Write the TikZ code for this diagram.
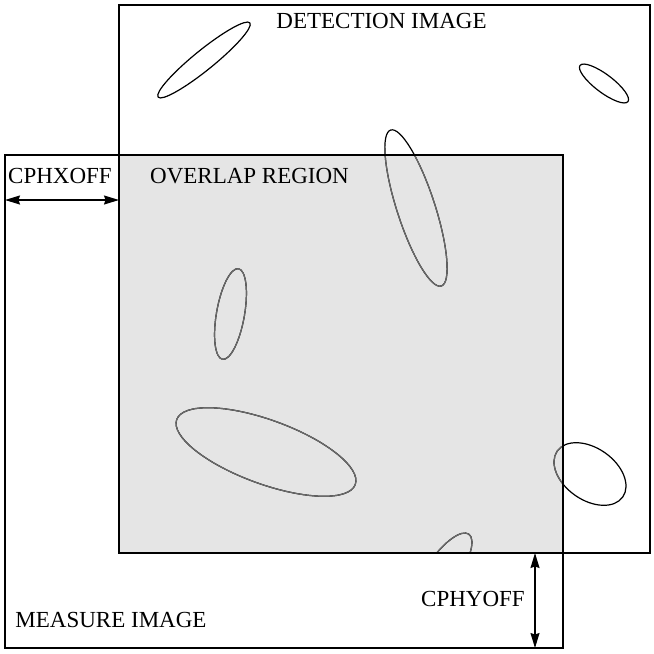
\documentclass[tikz,border=0pt]{standalone}
\usepackage{fontspec}
\setmainfont{Liberation Serif}
\usetikzlibrary{arrows.meta}
\definecolor{overlapfill}{HTML}{E5E5E5}
\definecolor{galaxygray}{HTML}{6A6A6A}
\tikzset{
  frame/.style={draw=black, line width=1.5pt},
  galaxy/.style={line width=1.2pt},
  lbl/.style={inner sep=0pt, font=\fontsize{23}{27}\selectfont},
  dim/.style={line width=1.2pt, {Stealth[length=15pt,width=9pt,inset=1.5pt]}-{Stealth[length=15pt,width=9pt,inset=1.5pt]}},
}
\newcommand{\galaxies}[1]{%
  \draw[galaxy,#1,rotate around={39:(204,-60)}] (204,-60) ellipse [x radius=59, y radius=10];
  \draw[galaxy,#1,rotate around={-37:(604,-83.5)}] (604,-83.5) ellipse [x radius=30, y radius=9];
  \draw[galaxy,#1,rotate around={-72:(416,-208)}] (416,-208) ellipse [x radius=82, y radius=19];
  \draw[galaxy,#1,rotate around={80:(230.5,-314)}] (230.5,-314) ellipse [x radius=46, y radius=14];
  \draw[galaxy,#1,rotate around={-20:(266,-452)}] (266,-452) ellipse [x radius=95, y radius=32];
  \draw[galaxy,#1,rotate around={-35:(590,-474)}] (590,-474) ellipse [x radius=40, y radius=26];
  \draw[galaxy,#1,rotate around={55:(443,-571)}] (443,-571) ellipse [x radius=45, y radius=16];
}
\begin{document}
\begin{tikzpicture}[x=1pt,y=1pt]
\useasboundingbox (0,0) rectangle (654,-654);
\fill[white] (0,0) rectangle (654,-654);
% corners
\coordinate (dTL) at (119,-5);
\coordinate (dBR) at (650,-553);
\coordinate (mTL) at (5,-155);
\coordinate (mBR) at (563,-648);
\coordinate (oTL) at (119,-155);
\coordinate (oBR) at (563,-553);
% overlap fill
\fill[overlapfill] (oTL) rectangle (oBR);
% galaxies in detection image (black)
\begin{scope}
  \clip (dTL) rectangle (dBR);
  \galaxies{black}
\end{scope}
% galaxies in overlap region (gray)
\begin{scope}
  \clip (oTL) rectangle (oBR);
  \galaxies{galaxygray}
\end{scope}
% frames
\draw[frame] (dTL) rectangle (dBR);
\draw[frame] (mTL) rectangle (mBR);
% labels
\node[lbl] (det) at (381.5,-21) {DETECTION IMAGE};
\node[lbl] (ovl) at (249.5,-176) {OVERLAP REGION};
\node[lbl] (cphx) at (60,-176) {CPHXOFF};
\node[lbl] (cphy) at (473,-599) {CPHYOFF};
\node[lbl] (meas) at (111,-620) {MEASURE IMAGE};
% dimension arrows
\coordinate (hxL) at (5,-200);
\coordinate (hxR) at (119,-200);
\coordinate (vyT) at (535,-553);
\coordinate (vyB) at (535,-648);
\draw[dim] (hxL) -- (hxR);
\draw[dim] (vyT) -- (vyB);
\end{tikzpicture}
\end{document}
